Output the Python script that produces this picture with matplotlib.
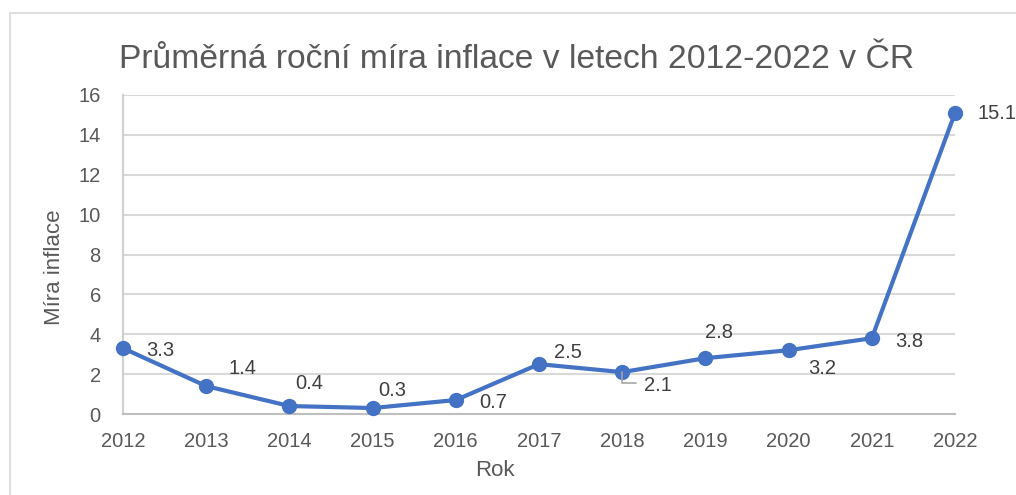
import numpy as np
import matplotlib
matplotlib.use("Agg")
import matplotlib.pyplot as plt
from matplotlib.patches import Rectangle

# data
roky = [2012, 2013, 2014, 2015, 2016, 2017, 2018, 2019, 2020, 2021, 2022]
inflace = [3.3, 1.4, 0.4, 0.3, 0.7, 2.5, 2.1, 2.8, 3.2, 3.8, 15.1]
popisky = ["3.3", "1.4", "0.4", "0.3", "0.7", "2.5", "2.1", "2.8", "3.2", "3.8", "15.1"]
y_ticks = [0, 2, 4, 6, 8, 10, 12, 14, 16]

# label offsets in pixels (excel-like placement)
offs = [(37, -2), (36, 18), (20, 23), (20, 18), (37, -2), (29, 12),
        (36, -13), (14, 26), (34, -18), (37, -3), (42, -1)]

plt.rcParams['font.family'] = ['Liberation Sans', 'DejaVu Sans']
seda = '#595959'
modra = '#4472C4'

fig = plt.figure(figsize=(10.16, 4.95), dpi=100)
fig.patch.set_facecolor('white')

# outer chart frame (right/bottom edge is off the picture)
fig.patches.append(Rectangle((10/1016, -0.2), 1.2, 1 - 13/495 + 0.2,
                             transform=fig.transFigure, fill=False,
                             edgecolor='#d9d9d9', linewidth=1.2))

ax = fig.add_axes([123/1016, 1 - 414/495, (955-123)/1016, (414-95)/495])
ax.plot(roky, inflace, color=modra, linewidth=3, marker='o',
        markersize=10, clip_on=False, zorder=3)

for x, y, t, (dx, dy) in zip(roky, inflace, popisky, offs):
    ax.annotate(t, (x, y), xytext=(dx, dy), textcoords='offset pixels',
                ha='center', va='center', fontsize=14.5, color='#404040')

# leader line for 2018
ax.annotate('', (roky[6], inflace[6]), xytext=(14, -11), textcoords='offset pixels',
            arrowprops=dict(arrowstyle='-', color='#a6a6a6', lw=1.2,
                            connectionstyle='angle,angleA=0,angleB=90,rad=0',
                            shrinkA=0, shrinkB=0))

ax.set_xlim(2012, 2022)
ax.set_ylim(0, 16)
ax.set_yticks(y_ticks)
ax.set_xticks(roky)
ax.grid(axis='y', color='#d9d9d9', linewidth=1.5)
ax.set_axisbelow(True)
for s in ['top', 'right']:
    ax.spines[s].set_visible(False)
ax.spines['left'].set_color('#d0d0d0')
ax.spines['left'].set_linewidth(1.5)
ax.spines['bottom'].set_color('#bfbfbf')
ax.spines['bottom'].set_linewidth(1.5)
ax.tick_params(axis='both', length=0, labelsize=14.5, labelcolor=seda)
ax.tick_params(axis='x', pad=13)
ax.tick_params(axis='y', pad=16)

fig.text(495/1016, 1 - 470/495, 'Rok', ha='center', va='center', fontsize=16, color=seda)
fig.text(55/1016, 1 - 267/495, 'Míra inflace', ha='center', va='center',
         rotation=90, fontsize=16, color=seda)

fig.text(517/1016, 1 - 60/495, 'Průměrná roční míra inflace v letech 2012-2022 v ČR',
         ha='center', va='center', fontsize=24.2, color=seda)

fig.savefig('out.png', dpi=100)
